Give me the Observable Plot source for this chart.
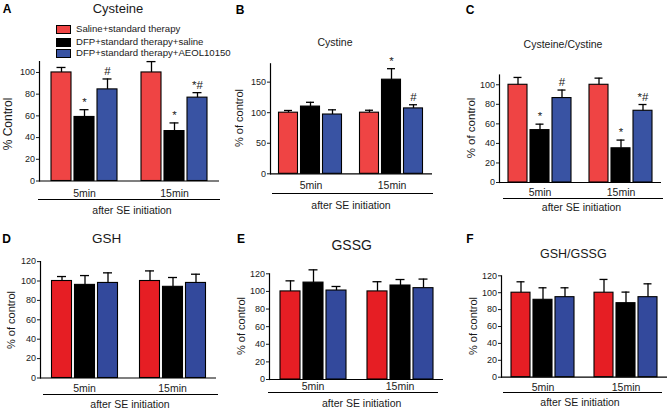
<!DOCTYPE html>
<html><head><meta charset="utf-8">
<script src="https://cdn.jsdelivr.net/npm/d3@7"></script>
<script src="https://cdn.jsdelivr.net/npm/@observablehq/plot@0.6"></script>
<style>
body{margin:0;background:#fff;}
#root{position:relative;width:670px;height:411px;overflow:hidden;font-family:"Liberation Sans",Arial,sans-serif;color:#1a1a1a;}
#root svg{position:absolute;}
.t{position:absolute;white-space:nowrap;line-height:1;transform:translate(-50%,-50%);}
.ul{position:absolute;height:0;border-top:1.2px solid #000;}
</style>
</head><body><div id="root"></div>
<script>
// ---- data ----
const groups = ["Saline+standard therapy", "DFP+standard therapy+saline", "DFP+standard therapy+AEOL10150"];
const times = ["5min", "15min"];
// order: 5min (saline, DFP+saline, DFP+AEOL), 15min (same)
const cysteineMean = [100, 59, 84.4, 100, 46, 76.8];
const cysteineSem  = [4.6, 6.7, 9.6, 10, 7.5, 4.6];
const cysteineSig  = ["", "*", "#", "", "*", "*#"];
const cystineMean  = [100, 110, 97, 100, 154, 107];
const cystineSem   = [3.6, 7, 7.7, 4, 18, 6];
const cystineSig   = ["", "", "", "", "*", "#"];
const ratioCMean   = [100, 53.6, 86.4, 100, 35, 73.4];
const ratioCSem    = [7.5, 6.1, 8.2, 6.8, 8.4, 6.4];
const ratioCSig    = ["", "*", "#", "", "*", "*#"];
const gshMean      = [100, 96, 98, 100, 94, 98];
const gshSem       = [4.6, 9.6, 10.4, 10.4, 9.6, 9];
const gssgMean     = [100, 110, 101, 100, 106.7, 103.7];
const gssgSem      = [12, 14.5, 4.6, 11, 6.8, 10.3];
const ratioGMean   = [100, 91.6, 94.7, 100, 87.6, 94.7];
const ratioGSem    = [12.9, 14.2, 11.1, 15.7, 13.1, 15.8];
const noSig        = ["", "", "", "", "", ""];
const ticks110 = [0, 20, 40, 60, 80, 100];
const ticks180 = [0, 50, 100, 150];
const ticks120 = [0, 20, 40, 60, 80, 100, 120];

const FONT = '"Liberation Sans", Arial, sans-serif';
const topColors = ["#ef4444", "#000000", "#3953a3"];
const botColors = ["#e61e24", "#000000", "#33499c"];

function makeRows(means, sems, sigs) {
  return times.flatMap((t, i) => groups.map((g, j) => ({
    time: t, group: g, mean: means[i * 3 + j], sem: sems[i * 3 + j], sig: sigs[i * 3 + j]
  })));
}

const root = document.getElementById("root");

function panel(c) {
  const rows = makeRows(c.mean, c.sem, c.sig);
  const top = d => d.mean + d.sem;
  const svg = Plot.plot({
    width: c.w, height: c.h,
    marginLeft: c.ml, marginRight: c.mr, marginTop: c.mt, marginBottom: c.mb,
    style: {background: "transparent", overflow: "visible", fontFamily: FONT, color: "#1a1a1a"},
    fx: {domain: times, padding: 0, label: null},
    x: {domain: groups, axis: null, paddingInner: c.pi, paddingOuter: c.po},
    y: {domain: [0, c.ymax]},
    color: {domain: groups, range: c.colors},
    marks: [
      Plot.barY(rows, {fx: "time", x: "group", y: "mean", fill: "group", stroke: "black", strokeWidth: 1.1}),
      Plot.ruleX(rows, {fx: "time", x: "group", y1: "mean", y2: top, stroke: "black", strokeWidth: 1.3}),
      Plot.tickY(rows, {fx: "time", x: "group", y: top, stroke: "black", strokeWidth: 1.3, insetLeft: c.cap, insetRight: c.cap}),
      Plot.text(rows, {fx: "time", x: "group", y: top, text: "sig", lineAnchor: "bottom", dy: -4, fontSize: 11.5}),
      Plot.ruleY([0], {stroke: "black", strokeWidth: 1.2}),
      Plot.frame({anchor: "left", facetAnchor: "left", stroke: "black", strokeWidth: 1.2}),
      Plot.axisY({ticks: c.yticks, tickSize: 3, tickPadding: 1.5, fontSize: 9, label: null}),
      Plot.axisFx({anchor: "bottom", tickSize: 0, tickPadding: c.tp, fontSize: 10.5, label: null})
    ]
  });
  svg.style.left = c.left + "px";
  svg.style.top = c.top + "px";
  root.appendChild(svg);
}

function text(s, x, y, size, extra) {
  const d = document.createElement("div");
  d.className = "t";
  d.textContent = s;
  d.style.left = x + "px"; d.style.top = y + "px"; d.style.fontSize = size + "px";
  if (extra) Object.assign(d.style, extra);
  root.appendChild(d);
}
function vlabel(s, x, y, size) {
  text(s, x, y, size, {transform: "translate(-50%,-50%) rotate(-90deg)"});
}
function underline(x1, x2, y) {
  const d = document.createElement("div");
  d.className = "ul";
  d.style.left = x1 + "px"; d.style.width = (x2 - x1) + "px"; d.style.top = y + "px";
  root.appendChild(d);
}

const panels = [
  {left: 0, top: 0, w: 230, h: 205, ml: 39, mr: 11, mt: 61.1, mb: 24.5, pi: 0.15, po: 0.49, ymax: 110, yticks: ticks110, mean: cysteineMean, sem: cysteineSem, sig: cysteineSig, colors: topColors, cap: 5.5, tp: 9},
  {left: 220, top: 0, w: 230, h: 205, ml: 49.5, mr: 17.1, mt: 63.3, mb: 31.7, pi: 0.133, po: 0.38, ymax: 180, yticks: ticks180, mean: cystineMean, sem: cystineSem, sig: cystineSig, colors: topColors, cap: 5.5, tp: 7.9},
  {left: 440, top: 0, w: 230, h: 205, ml: 58, mr: 8.6, mt: 74.5, mb: 23, pi: 0.147, po: 0.39, ymax: 110, yticks: ticks110, mean: ratioCMean, sem: ratioCSem, sig: ratioCSig, colors: topColors, cap: 5.5, tp: 5.7},
  {left: 0, top: 205, w: 230, h: 206, ml: 39.5, mr: 13.9, mt: 56.1, mb: 33.5, pi: 0.15, po: 0.42, ymax: 120, yticks: ticks120, mean: gshMean, sem: gshSem, sig: noSig, colors: botColors, cap: 5.5, tp: 7},
  {left: 220, top: 205, w: 230, h: 206, ml: 49, mr: 6.2, mt: 68.3, mb: 32, pi: 0.14, po: 0.445, ymax: 120, yticks: ticks120, mean: gssgMean, sem: gssgSem, sig: noSig, colors: botColors, cap: 5.5, tp: 3},
  {left: 440, top: 205, w: 230, h: 206, ml: 61, mr: 2.4, mt: 70.3, mb: 34.3, pi: 0.13, po: 0.44, ymax: 120, yticks: ticks120, mean: ratioGMean, sem: ratioGSem, sig: noSig, colors: botColors, cap: 5.5, tp: 6}
];
panels.forEach(panel);

// panel letters
text("A", 7, 9, 12, {fontWeight: "bold", color: "#000"});
text("B", 240, 10, 12, {fontWeight: "bold", color: "#000"});
text("C", 470, 10, 12, {fontWeight: "bold", color: "#000"});
text("D", 6.5, 238.5, 12, {fontWeight: "bold", color: "#000"});
text("E", 241, 239, 12, {fontWeight: "bold", color: "#000"});
text("F", 470, 238.5, 12, {fontWeight: "bold", color: "#000"});
// titles
text("Cysteine", 118, 7.5, 13);
text("Cystine", 335, 42, 10.5);
text("Cysteine/Cystine", 563, 43.5, 10.5);
text("GSH", 106.7, 238.5, 13.5);
text("GSSG", 351.7, 245, 14);
text("GSH/GSSG", 573.3, 253.5, 12.5);
// y labels
vlabel("% Control", 8, 124, 12);
vlabel("% of control", 239, 118, 11);
vlabel("% of control", 472, 128, 11.5);
vlabel("% of control", 10.5, 320, 11);
vlabel("% of control", 240.5, 326, 11);
vlabel("% of control", 472.5, 326, 11);
// x group underline + caption
underline(38, 220, 199.3); text("after SE initiation", 132, 210, 10.5);
underline(271.7, 433, 192.7); text("after SE initiation", 351, 205, 10.5);
underline(502.7, 662.7, 197.8); text("after SE initiation", 581.5, 206.5, 10.5);
underline(43, 218, 394.3); text("after SE initiation", 130, 404, 10.5);
underline(268.3, 438.3, 391.7); text("after SE initiation", 361.7, 403.3, 10.5);
underline(503.3, 661.7, 392.3); text("after SE initiation", 580, 402.3, 10.5);

// legend (panel A)
const legendY = [28.7, 41.7, 52.7];
groups.forEach((g, i) => {
  const sw = document.createElement("div");
  Object.assign(sw.style, {position: "absolute", left: "56px", top: (legendY[i] - 4) + "px", width: "13px", height: "7px",
    background: topColors[i], border: "1px solid #000"});
  root.appendChild(sw);
  const t = document.createElement("div");
  t.className = "t";
  t.textContent = g;
  Object.assign(t.style, {left: "76px", top: legendY[i] + "px", fontSize: "9.6px", transform: "translate(0,-50%)"});
  root.appendChild(t);
});
</script></body></html>
